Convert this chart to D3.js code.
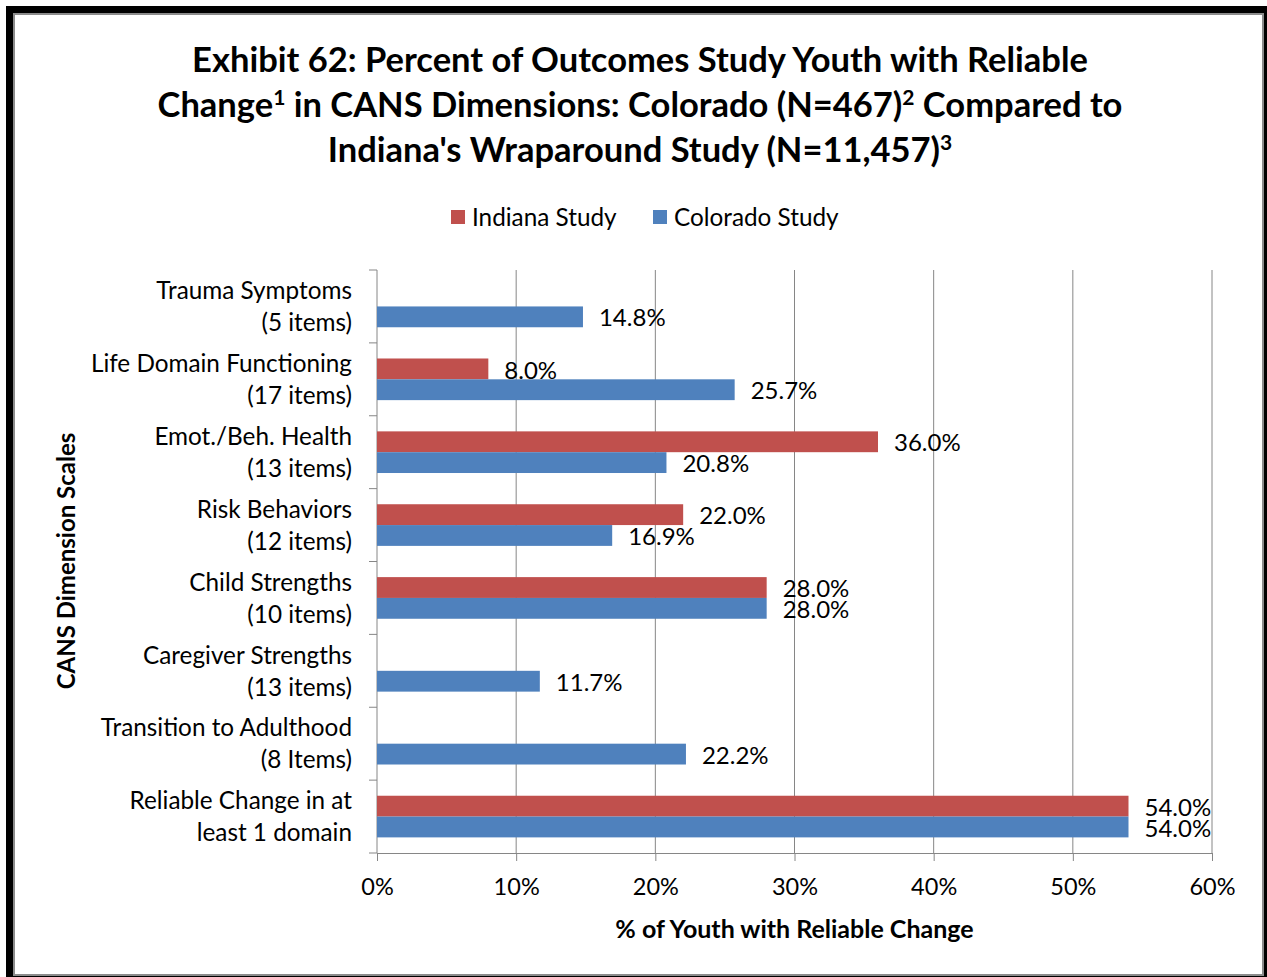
<!DOCTYPE html>
<html>
<head>
<meta charset="utf-8">
<script src="https://cdn.jsdelivr.net/npm/d3@7"></script>
<style>
  html, body { margin: 0; padding: 0; background: #fff; }
  svg { display: block; }
  text { font-family: Lato, "Open Sans", sans-serif; fill: #000; }
</style>
</head>
<body>
<svg id="chart" width="1267" height="977"></svg>
<script>
// CANS dimension scales (two-line labels)
const categories = [
  ["Trauma Symptoms", "(5 items)"],
  ["Life Domain Functioning", "(17 items)"],
  ["Emot./Beh. Health", "(13 items)"],
  ["Risk Behaviors", "(12 items)"],
  ["Child Strengths", "(10 items)"],
  ["Caregiver Strengths", "(13 items)"],
  ["Transition to Adulthood", "(8 Items)"],
  ["Reliable Change in at", "least 1 domain"]
];
const seriesNames = ["Indiana Study", "Colorado Study"];
const indiana = [null, 8.0, 36.0, 22.0, 28.0, null, null, 54.0];
const colorado = [14.8, 25.7, 20.8, 16.9, 28.0, 11.7, 22.2, 54.0];
const xTicks = [0, 10, 20, 30, 40, 50, 60];
const colors = ["#C0504D", "#4F81BD"];

const svg = d3.select("#chart");

// frame: dark shadow behind a grey-edged white panel
svg.append("rect").attr("x", 6).attr("y", 6).attr("width", 1261).attr("height", 971).attr("fill", "#000");
svg.append("rect").attr("x", 14).attr("y", 14).attr("width", 1249).attr("height", 961)
  .attr("fill", "#fff").attr("stroke", "#8c8c8c").attr("stroke-width", 2);

const plot = { left: 377, right: 1212, top: 270, bottom: 853 };

const x = d3.scaleLinear().domain([0, 60]).range([plot.left, plot.right]);
const y = d3.scaleBand().domain(d3.range(categories.length)).range([plot.top, plot.bottom]).paddingInner(0).paddingOuter(0);
// two bars per category with a 150% gap
const barH = y.bandwidth() / (2 + 1.5);
const sub = d3.scaleBand().domain([0, 1]).range([barH * 0.75, barH * 0.75 + 2 * barH]);

// vertical gridlines
svg.append("g").selectAll("line").data(xTicks.slice(1)).join("line")
  .attr("x1", d => x(d)).attr("x2", d => x(d))
  .attr("y1", plot.top).attr("y2", plot.bottom)
  .attr("stroke", "#868686").attr("stroke-width", 1);

// bottom axis
const xAxis = d3.axisBottom(x).tickValues(xTicks).tickFormat(d => d + "%").tickSize(8).tickPadding(17);
const gx = svg.append("g").attr("transform", `translate(0,${plot.bottom})`).call(xAxis);
gx.select(".domain").attr("stroke", "#868686");
gx.selectAll(".tick line").attr("stroke", "#868686");
gx.selectAll(".tick text").attr("font-size", 23.5).attr("font-family", "Lato, sans-serif").attr("fill", "#000");

// left axis with ticks at category boundaries
const ga = svg.append("g");
ga.append("line").attr("x1", plot.left).attr("x2", plot.left).attr("y1", plot.top).attr("y2", plot.bottom).attr("stroke", "#868686");
ga.selectAll("line.tk").data(d3.range(categories.length + 1)).join("line").attr("class", "tk")
  .attr("x1", plot.left - 8).attr("x2", plot.left)
  .attr("y1", i => i < categories.length ? y(i) : plot.bottom)
  .attr("y2", i => i < categories.length ? y(i) : plot.bottom)
  .attr("stroke", "#868686");

// category labels
const catG = svg.append("g").selectAll("text").data(categories).join("text")
  .attr("text-anchor", "end").attr("font-size", 24.3)
  .attr("x", plot.left - 25)
  .attr("y", (d, i) => y(i) + y.bandwidth() / 2);
catG.selectAll("tspan").data(d => d).join("tspan")
  .attr("x", plot.left - 25)
  .attr("dy", (d, j) => j === 0 ? "-0.3em" : "1.32em")
  .text(d => d);

// bars
const series = [indiana, colorado];
series.forEach((vals, s) => {
  const g = svg.append("g");
  const data = vals.map((v, i) => ({ v, i })).filter(d => d.v !== null);
  g.selectAll("rect").data(data).join("rect")
    .attr("x", x(0))
    .attr("y", d => y(d.i) + sub(s))
    .attr("width", d => x(d.v) - x(0))
    .attr("height", sub.bandwidth())
    .attr("fill", colors[s]);
  g.selectAll("text").data(data).join("text")
    .attr("x", d => x(d.v) + 16)
    .attr("y", d => y(d.i) + sub(s) + sub.bandwidth() / 2)
    .attr("dy", "0.4em")
    .attr("font-size", 24)
    .text(d => d.v.toFixed(1) + "%");
});

// title with superscript footnote marks
const titleLines = [
  [["Exhibit 62: Percent of Outcomes Study Youth with Reliable", false]],
  [["Change", false], ["1", true], [" in CANS Dimensions: Colorado (N=467)", false], ["2", true], [" Compared to", false]],
  [["Indiana's Wraparound Study (N=11,457)", false], ["3", true]]
];
titleLines.forEach((parts, li) => {
  const t = svg.append("text").attr("text-anchor", "middle").attr("font-size", 34.5).attr("font-weight", "bold")
    .attr("x", 640).attr("y", 72 + li * 45);
  parts.forEach(([str, sup]) => {
    t.append("tspan")
      .attr("font-size", sup ? 21 : 34.5)
      .attr("baseline-shift", sup ? "55%" : null)
      .text(str);
  });
});

// legend
const legend = svg.append("g");
const legX = [451, 653];
seriesNames.forEach((n, s) => {
  legend.append("rect").attr("x", legX[s]).attr("y", 210).attr("width", 14).attr("height", 14).attr("fill", colors[s]);
  legend.append("text").attr("x", legX[s] + 21).attr("y", 217).attr("dy", "0.38em").attr("font-size", 24.3).text(n);
});

// axis titles
svg.append("text").attr("x", (plot.left + plot.right) / 2).attr("y", 929).attr("dy", "0.36em")
  .attr("text-anchor", "middle").attr("font-size", 25).attr("font-weight", "bold")
  .text("% of Youth with Reliable Change");
svg.append("text").attr("transform", "translate(66,561) rotate(-90)").attr("dy", "0.36em")
  .attr("text-anchor", "middle").attr("font-size", 24).attr("font-weight", "bold")
  .text("CANS Dimension Scales");
</script>
</body>
</html>
